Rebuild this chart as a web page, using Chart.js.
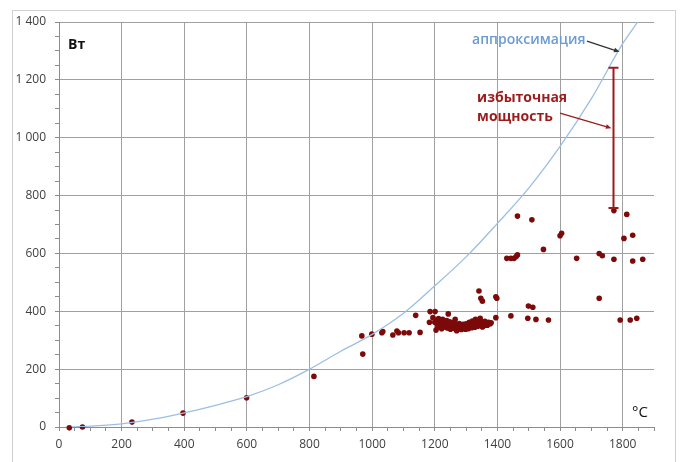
<!DOCTYPE html>
<html>
<head>
<meta charset="utf-8">
<script src="https://cdn.jsdelivr.net/npm/chart.js@4"></script>
<style>
  html, body { margin: 0; padding: 0; background: #fff; }
  #wrap { width: 681px; height: 462px; position: relative; }
</style>
</head>
<body>
<div id="wrap"><canvas id="chart1" width="681" height="462"></canvas></div>
<script>
// measured points: temperature (°C) and power (W)
const measT = [33, 75, 233, 396, 599, 814,
  967, 970, 999, 1031, 1034, 1066, 1079, 1084, 1102, 1118, 1139, 1153,
  1185, 1201, 1194, 1183, 1204, 1243, 1265, 1270,
  1341, 1347, 1352, 1395, 1398, 1395, 1377,
  1430, 1443, 1453, 1460, 1464, 1464, 1510, 1547, 1600, 1605,
  1499, 1513, 1443, 1497, 1523, 1563,
  1653, 1725, 1735, 1725, 1772, 1772, 1813, 1804, 1832, 1832, 1864,
  1792, 1824, 1845,
  1200, 1205, 1208, 1210, 1212, 1215, 1218, 1220, 1222, 1225, 1228, 1230, 1232, 1235, 1238,
  1240, 1242, 1245, 1248, 1250, 1252, 1255, 1258, 1260, 1262, 1265, 1268, 1270, 1272, 1275,
  1278, 1280, 1283, 1285, 1288, 1290, 1292, 1295, 1298, 1300, 1302, 1305, 1307, 1310, 1312,
  1315, 1318, 1320, 1322, 1325, 1328, 1330, 1332, 1335, 1338, 1340, 1342, 1345, 1348, 1350,
  1352, 1355, 1358, 1360, 1362, 1365, 1368, 1372, 1376, 1380];
const measP = [-3, 0, 17, 48, 101, 175,
  315, 252, 321, 326, 330, 318, 332, 326, 326, 326, 386, 327,
  399, 399, 378, 362, 335, 391, 372, 333,
  470, 445, 435, 450, 445, 378, 358,
  583, 583, 583, 589, 595, 729, 716, 614, 661, 670,
  418, 414, 384, 376, 372, 370,
  583, 600, 592, 445, 748, 580, 735, 652, 663, 574, 580,
  370, 370, 376,
  362, 370, 355, 345, 375, 360, 350, 366, 340, 372, 356, 346, 362, 351, 368,
  342, 358, 348, 364, 338, 354, 345, 360, 350, 341, 356, 346, 335, 352, 343,
  358, 340, 350, 337, 346, 355, 341, 349, 338, 357, 345, 352, 340, 362, 348,
  355, 343, 366, 351, 358, 345, 372, 354, 362, 348, 368, 356, 376, 352, 363,
  346, 358, 350, 365, 355, 360, 352, 362, 357, 360];

// approximation curve
const curveT = [40, 100, 200, 300, 400, 500, 600, 700, 800, 900, 1000, 1100, 1200, 1300, 1400, 1500, 1600, 1700, 1800, 1848];
const curveP = [0, 3, 11, 27, 49, 75, 105, 146, 200, 262, 320, 393, 488, 588, 704, 826, 970, 1135, 1325, 1400];

// excess power bar
const excessT = 1768;
const excessTop = 1242;
const excessBottom = 757;

const xMax = 1900;
const yMax = 1400;

const measured = measT.map((t, i) => ({ x: t, y: measP[i] }));
const curve = curveT.map((t, i) => ({ x: t, y: curveP[i] }));

const gridCol = '#a0a0a0';
const axisCol = '#8c8c8c';
const labelCol = '#404040';
const red = '#9c1c1c';
const blue = '#6a9bd3';

function fmtThousands(v) {
  return String(v).replace(/\B(?=(\d{3})+(?!\d))/g, ' ');
}

function arrow(ctx, x1, y1, x2, y2, color, head) {
  const a = Math.atan2(y2 - y1, x2 - x1);
  ctx.save();
  ctx.strokeStyle = color;
  ctx.fillStyle = color;
  ctx.lineWidth = 1.3;
  ctx.beginPath();
  ctx.moveTo(x1, y1);
  ctx.lineTo(x2 - Math.cos(a) * head * 0.8, y2 - Math.sin(a) * head * 0.8);
  ctx.stroke();
  ctx.beginPath();
  ctx.moveTo(x2, y2);
  ctx.lineTo(x2 - head * Math.cos(a - 0.4), y2 - head * Math.sin(a - 0.4));
  ctx.lineTo(x2 - head * Math.cos(a + 0.4), y2 - head * Math.sin(a + 0.4));
  ctx.closePath();
  ctx.fill();
  ctx.restore();
}

const extras = {
  id: 'extras',
  beforeDraw(chart) {
    const ctx = chart.ctx;
    ctx.save();
    ctx.fillStyle = '#fff';
    ctx.fillRect(0, 0, chart.width, chart.height);
    ctx.strokeStyle = '#d0d0d0';
    ctx.lineWidth = 1;
    ctx.strokeRect(12.5, 10.5, 663, 460);
    ctx.restore();
  },
  afterDatasetsDraw(chart) {
    const ctx = chart.ctx;
    const xs = chart.scales.x, ys = chart.scales.y;
    const area = chart.chartArea;
    const px = v => xs.getPixelForValue(v);
    const py = v => ys.getPixelForValue(v);
    ctx.save();

    // excess power bar
    const bx = Math.round(px(excessT)) + 0.5;
    ctx.strokeStyle = red;
    ctx.lineWidth = 2;
    ctx.beginPath();
    ctx.moveTo(bx, py(excessTop));
    ctx.lineTo(bx, py(excessBottom));
    ctx.moveTo(bx - 5, py(excessTop));
    ctx.lineTo(bx + 5, py(excessTop));
    ctx.moveTo(bx - 5, py(excessBottom));
    ctx.lineTo(bx + 5, py(excessBottom));
    ctx.stroke();

    // unit labels
    ctx.fillStyle = '#111';
    ctx.textBaseline = 'middle';
    ctx.textAlign = 'left';
    ctx.font = 'bold 14px "Open Sans", sans-serif';
    ctx.fillText('Вт', area.left + 9, area.top + 23);
    ctx.font = '15px "Open Sans", sans-serif';
    ctx.fillText('°C', area.right - 22, area.bottom - 14);

    // annotations
    ctx.font = '600 14px "Open Sans", sans-serif';
    ctx.fillStyle = blue;
    ctx.fillText('аппроксимация', px(1319), py(1338));
    arrow(ctx, px(1686), py(1334), px(1790), py(1297), '#333', 6);

    ctx.font = 'bold 14px "Open Sans", sans-serif';
    ctx.fillStyle = red;
    ctx.fillText('избыточная', px(1335), py(1137));
    ctx.fillText('мощность', px(1335), py(1072));
    arrow(ctx, px(1600), py(1085), px(1764), py(1033), red, 6);
    ctx.restore();
  }
};

new Chart('chart1', {
  type: 'scatter',
  data: {
    datasets: [{
      type: 'line',
      data: curve,
      borderColor: '#9cbfe3',
      borderWidth: 1.3,
      pointRadius: 0,
      fill: false,
      cubicInterpolationMode: 'monotone'
    }, {
      data: measured,
      backgroundColor: '#7c0a0a',
      borderColor: '#7c0a0a',
      borderWidth: 0,
      pointRadius: 2.8,
      clip: false
    }]
  },
  options: {
    responsive: false,
    animation: false,
    layout: { padding: { top: 22, right: 27, bottom: 0, left: 0 } },
    plugins: { legend: { display: false }, tooltip: { enabled: false } },
    scales: {
      x: {
        type: 'linear',
        min: 0, max: xMax,
        afterFit: s => { s.height = 35; },
        border: { color: axisCol, width: 1 },
        grid: {
          color: c => (c.tick && c.tick.value % 200 === 0) ? gridCol : 'rgba(0,0,0,0)',
          tickColor: axisCol,
          tickLength: 4
        },
        ticks: {
          stepSize: 50,
          autoSkip: false,
          maxRotation: 0,
          padding: 6,
          color: labelCol,
          font: { family: '"Open Sans", sans-serif', size: 12 },
          callback: v => v % 200 === 0 ? String(v) : ''
        }
      },
      y: {
        min: 0, max: yMax,
        afterFit: s => { s.width = 59; },
        border: { color: axisCol, width: 1 },
        grid: {
          color: c => (c.tick && c.tick.value % 200 === 0) ? gridCol : 'rgba(0,0,0,0)',
          tickColor: axisCol,
          tickLength: 4
        },
        ticks: {
          stepSize: 50,
          autoSkip: false,
          padding: 9,
          color: labelCol,
          font: { family: '"Open Sans", sans-serif', size: 12 },
          callback: v => v % 200 === 0 ? fmtThousands(v) : ''
        }
      }
    }
  },
  plugins: [extras]
});
</script>
</body>
</html>
